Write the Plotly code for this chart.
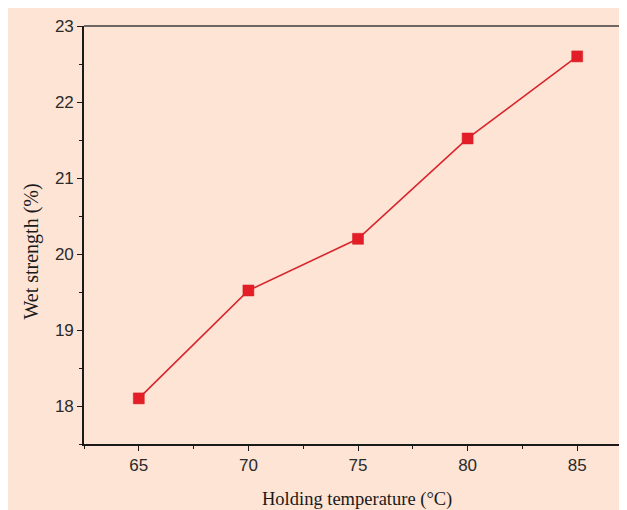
import plotly.graph_objects as go

temperature = [65, 70, 75, 80, 85]
wet_strength = [18.1, 19.52, 20.2, 21.52, 22.6]
x_ticks = [65, 70, 75, 80, 85]
y_ticks = [18, 19, 20, 21, 22, 23]

PEACH = "#FDE4D5"
RED = "#E31E26"

fig = go.Figure()
fig.add_trace(go.Scatter(
    x=temperature, y=wet_strength, mode="lines+markers",
    line=dict(color="#D8262D", width=1.6),
    marker=dict(symbol="square", size=11, color=RED, line=dict(color="#D01F27", width=0.5)),
    showlegend=False, hoverinfo="skip",
))

# figure pixel coordinates (page body margin of 8px is added by the browser)
W, H = 627, 510
L, R, T, B = 76, 3, 18, 74
pw, ph = W - L - R, H - T - B

def px_x(p):
    return (p - L) / pw

def px_y(p):
    return 1 - (p - T) / ph

# top frame line
fig.add_shape(type="line", xref="paper", yref="paper",
              x0=0, x1=1, y0=1, y1=1,
              line=dict(color="#3C3C3C", width=1.6), layer="above")

axis_font = dict(family="Liberation Sans, Arial, sans-serif", size=17, color="#2A2A2A")

fig.update_xaxes(
    range=[62.5, 87.5], tickvals=x_ticks, ticktext=[str(v) for v in x_ticks],
    showline=True, linecolor="#1A1A1A", linewidth=1.6, mirror=False,
    ticks="outside", ticklen=5, tickwidth=1.3, tickcolor="#1A1A1A",
    minor=dict(ticks="outside", ticklen=3, tickwidth=1.2, tickcolor="#1A1A1A", tick0=62.5, dtick=2.5),
    showgrid=False, zeroline=False, tickfont=axis_font,
)
fig.update_yaxes(
    range=[17.5, 23], tickvals=y_ticks, ticktext=[str(v) for v in y_ticks],
    showline=True, linecolor="#1A1A1A", linewidth=1.6, mirror=False,
    ticks="outside", ticklen=5, tickwidth=1.3, tickcolor="#1A1A1A",
    minor=dict(ticks="outside", ticklen=3, tickwidth=1.2, tickcolor="#1A1A1A", tick0=17.5, dtick=0.5),
    showgrid=False, zeroline=False, tickfont=axis_font,
)

fig.add_annotation(text="Holding temperature (°C)", xref="paper", yref="paper",
                   x=px_x(349), y=px_y(491), showarrow=False,
                   font=dict(family="Liberation Serif, Times New Roman, serif", size=18.5, color="#1A1A1A"),
                   xanchor="center", yanchor="middle")
fig.add_annotation(text="Wet strength (%)", xref="paper", yref="paper",
                   x=px_x(22.5), y=px_y(244), showarrow=False,
                   font=dict(family="Liberation Serif, Times New Roman, serif", size=20, color="#1A1A1A"),
                   textangle=-90, xanchor="center", yanchor="middle")

fig.update_layout(
    width=W, height=H, margin=dict(l=L, r=R, t=T, b=B, pad=0),
    paper_bgcolor=PEACH, plot_bgcolor=PEACH,
)

fig.write_html("out.html", post_script="document.body.style.overflow='hidden';")
